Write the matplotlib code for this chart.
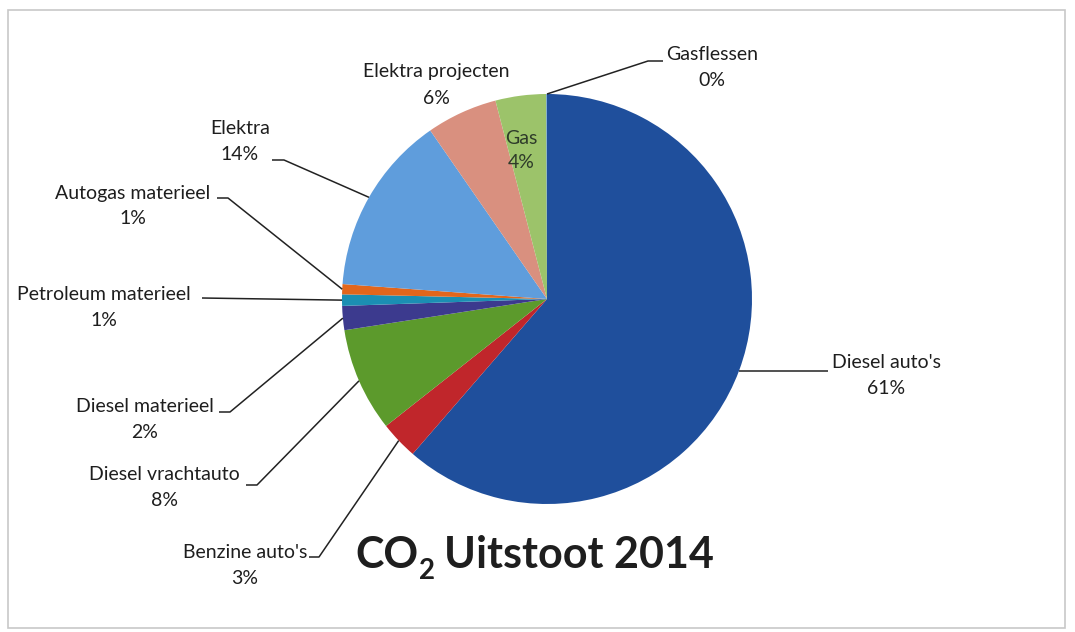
import numpy as np
import matplotlib
matplotlib.use("Agg")
import matplotlib.pyplot as plt
from matplotlib.patches import Rectangle

# data
categories = ["Diesel auto's", "Benzine auto's", "Diesel vrachtauto", "Diesel materieel",
              "Petroleum materieel", "Autogas materieel", "Elektra", "Elektra projecten",
              "Gas", "Gasflessen"]
shares = [61.4, 3.0, 8.2, 1.9, 0.9, 0.8, 14.2, 5.6, 4.0, 0.05]
pct_labels = ["61%", "3%", "8%", "2%", "1%", "1%", "14%", "6%", "4%", "0%"]
colors = ["#1f4f9c", "#c0262b", "#5c9a2c", "#3c3a8e", "#1b8fb3", "#e2661c",
          "#5f9ddc", "#d9907f", "#9cc36a", "#4f8fd0"]

W, H = 1075, 632
plt.rcParams["font.family"] = ["Lato", "DejaVu Sans"]

fig = plt.figure(figsize=(W / 100, H / 100), dpi=100)
ax = fig.add_axes([0, 0, 1, 1])


def py(y):
    # image y (top down) -> axes y
    return H - y


cx, cy, r = 547, 299, 205
wedges, _ = ax.pie(shares, colors=colors, startangle=90, counterclock=False,
                   center=(cx, py(cy)), radius=r, frame=True,
                   wedgeprops=dict(linewidth=0))
ax.set_xlim(0, W)
ax.set_ylim(0, H)
ax.set_aspect("equal")
ax.axis("off")

# light frame of the chart area
ax.add_patch(Rectangle((8, py(628)), 1057, 618, fill=False, ec="#c8c8c8", lw=1.2))


def edge_point(w):
    ang = np.deg2rad((w.theta1 + w.theta2) / 2)
    return cx + r * np.cos(ang), py(cy) + r * np.sin(ang)


# label layout: (text centre x, name y, elbow start x, elbow end x, elbow y)
layout = {
    "Diesel auto's": (886, 362, 828, 828, None),
    "Benzine auto's": (245, 552, 309, 319, 557),
    "Diesel vrachtauto": (164, 475, 246, 257, 485),
    "Diesel materieel": (145, 407, 219, 230, 412),
    "Petroleum materieel": (104, 295, 202, 202, 298),
    "Autogas materieel": (133, 193, 217, 228, 198),
    "Elektra": (240, 128, 272, 284, 160),
    "Gasflessen": (712, 55, 663, 648, 61),
}

txt_color = "#1e1e1e"
fs = 14
for name, pct, w in zip(categories, pct_labels, wedges):
    if name in layout:
        tx, ty, x0, x1, ly = layout[name]
        ax.text(tx, py(ty), name, ha="center", va="center", fontsize=fs, color=txt_color)
        ax.text(tx, py(ty + 26), pct, ha="center", va="center", fontsize=fs, color=txt_color)
        ex, ey = edge_point(w)
        if name == "Gasflessen":
            ex, ey = cx, py(cy - r)
        yl = ey if ly is None else py(ly)
        ax.plot([x0, x1, ex], [yl, yl, ey], color="#222222", lw=1.1,
                solid_capstyle="butt")
    elif name == "Elektra projecten":
        ax.text(436, py(72), name, ha="center", va="center", fontsize=fs, color=txt_color)
        ax.text(436, py(98), pct, ha="center", va="center", fontsize=fs, color=txt_color)
    elif name == "Gas":
        ax.text(521, py(139), name, ha="center", va="center", fontsize=fs, color="#2e3b2a")
        ax.text(521, py(162), pct, ha="center", va="center", fontsize=fs, color="#2e3b2a")

# title with subscript
title_color = "#1e1e1e"
co = ax.text(355, py(568), "CO", fontsize=31, fontweight="bold", color=title_color,
             ha="left", va="baseline")
fig.canvas.draw()
inv = ax.transData.inverted()
x_sub = inv.transform((co.get_window_extent().x1, 0))[0] + 1
sub = ax.text(x_sub, py(579), "2", fontsize=20, fontweight="bold", color=title_color,
              ha="left", va="baseline")
fig.canvas.draw()
x_rest = inv.transform((sub.get_window_extent().x1, 0))[0] + 9
ax.text(x_rest, py(568), "Uitstoot 2014", fontsize=31, fontweight="bold",
        color=title_color, ha="left", va="baseline")

fig.savefig("out.png", dpi=100)
